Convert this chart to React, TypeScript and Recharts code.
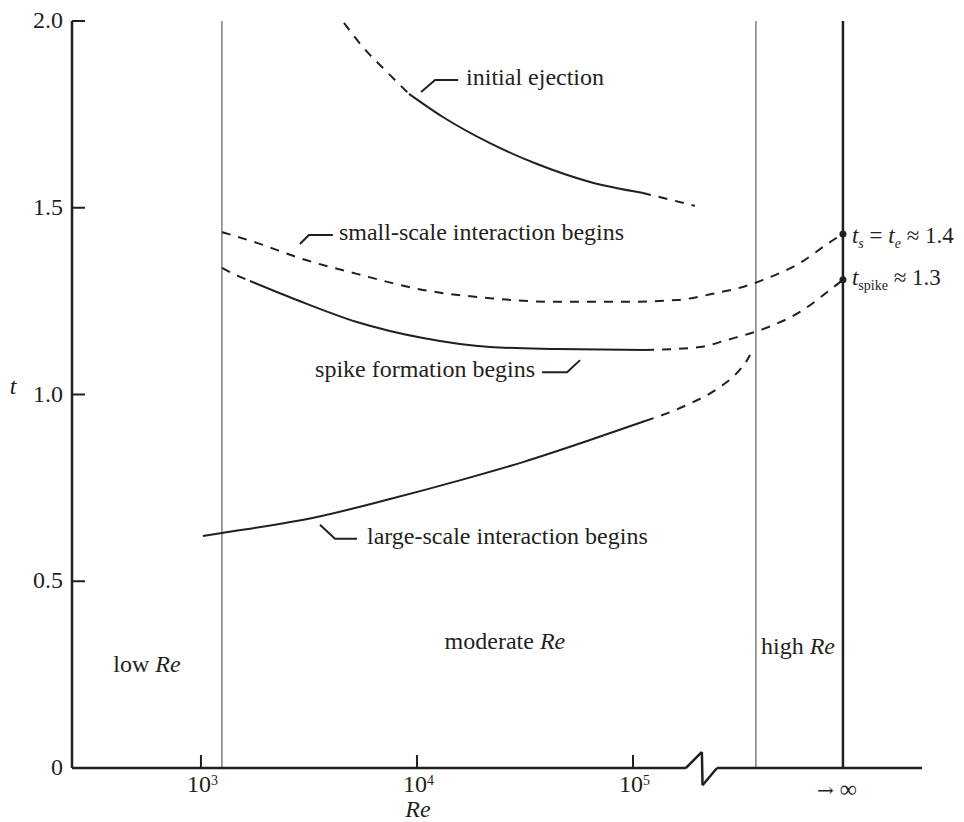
import { ComposedChart, Line, XAxis, YAxis, ReferenceLine, ReferenceDot } from "recharts";

const FONT = '"Liberation Serif", "Times New Roman", serif';
const INK = "#231f20";
const GREY = "#808080";

// x is log10(Re); the point at "infinity" is drawn at a fixed place past the axis break
const xTicks = [3, 4, 5];
const xTickExponents = ["3", "4", "5"];
const infinityX = 5.972;
const yTicks = [0, 0.5, 1, 1.5, 2];
const yTickLabels = ["0", "0.5", "1.0", "1.5", "2.0"];
const regimeBounds = [3.097, 5.569];

// x-axis with the zigzag break
const xAxisPath = [
  { x: 2.403, y: 0 },
  { x: 5.245, y: 0 },
  { x: 5.319, y: 0.043 },
  { x: 5.322, y: -0.046 },
  { x: 5.389, y: 0 },
  { x: 6.338, y: 0 },
];

// initial ejection
const ejectionDashStart = [
  { x: 3.662, y: 1.995 },
  { x: 3.75, y: 1.93 },
  { x: 3.85, y: 1.87 },
  { x: 3.963, y: 1.805 },
];
const ejectionSolid = [
  { x: 3.963, y: 1.805 },
  { x: 4.12, y: 1.743 },
  { x: 4.338, y: 1.673 },
  { x: 4.556, y: 1.617 },
  { x: 4.801, y: 1.569 },
  { x: 5.042, y: 1.54 },
];
const ejectionDashEnd = [
  { x: 5.042, y: 1.54 },
  { x: 5.17, y: 1.522 },
  { x: 5.287, y: 1.505 },
];

// small-scale interaction begins (dashed throughout)
const smallScaleDash = [
  { x: 3.097, y: 1.435 },
  { x: 3.259, y: 1.406 },
  { x: 3.458, y: 1.365 },
  { x: 3.722, y: 1.323 },
  { x: 4.028, y: 1.28 },
  { x: 4.338, y: 1.258 },
  { x: 4.648, y: 1.248 },
  { x: 4.954, y: 1.248 },
  { x: 5.204, y: 1.253 },
  { x: 5.389, y: 1.272 },
  { x: 5.509, y: 1.288 },
  { x: 5.602, y: 1.307 },
  { x: 5.773, y: 1.352 },
  { x: 5.912, y: 1.408 },
  { x: 5.972, y: 1.43 },
];

// spike formation begins
const spikeDashStart = [
  { x: 3.097, y: 1.339 },
  { x: 3.181, y: 1.315 },
  { x: 3.227, y: 1.304 },
];
const spikeSolid = [
  { x: 3.227, y: 1.304 },
  { x: 3.444, y: 1.253 },
  { x: 3.722, y: 1.194 },
  { x: 4.028, y: 1.151 },
  { x: 4.338, y: 1.127 },
  { x: 4.648, y: 1.122 },
  { x: 5.056, y: 1.119 },
];
const spikeDashEnd = [
  { x: 5.056, y: 1.119 },
  { x: 5.31, y: 1.127 },
  { x: 5.435, y: 1.146 },
  { x: 5.602, y: 1.175 },
  { x: 5.773, y: 1.221 },
  { x: 5.912, y: 1.28 },
  { x: 5.972, y: 1.307 },
];

// large-scale interaction begins
const largeScaleSolid = [
  { x: 3.009, y: 0.621 },
  { x: 3.097, y: 0.629 },
  { x: 3.537, y: 0.672 },
  { x: 3.875, y: 0.72 },
  { x: 4.185, y: 0.768 },
  { x: 4.491, y: 0.819 },
  { x: 4.801, y: 0.878 },
  { x: 5.056, y: 0.929 },
];
const largeScaleDash = [
  { x: 5.056, y: 0.929 },
  { x: 5.25, y: 0.972 },
  { x: 5.403, y: 1.02 },
  { x: 5.472, y: 1.052 },
  { x: 5.528, y: 1.092 },
  { x: 5.542, y: 1.106 },
];

// limiting values at Re -> infinity
const limitTs = 1.43;
const limitSpike = 1.307;

const regimeLabels = [
  { x: 2.75, y: 0.273, word: "low" },
  { x: 4.407, y: 0.335, word: "moderate" },
  { x: 5.764, y: 0.321, word: "high" },
];

const curveNotes = [
  { x: 4.019, y: 1.81, text: "initial ejection", dx: 14, dy: -12, run: 23, gap: 8 },
  { x: 3.458, y: 1.403, text: "small-scale interaction begins", dx: 9, dy: -9, run: 24, gap: 6 },
  { x: 4.755, y: 1.092, text: "spike formation begins", dx: -13, dy: 12, run: -25, gap: 7 },
  { x: 3.551, y: 0.651, text: "large-scale interaction begins", dx: 15, dy: 14, run: 22, gap: 10 },
];

const textStyle = { fontFamily: FONT, fontSize: 24, fill: INK };
const limitStyle = { ...textStyle, fontSize: 23 };

function XTick(props: any) {
  const { x, y, payload } = props;
  const v = payload.value;
  if (Math.abs(v - infinityX) < 1e-6) {
    return (
      <text x={x - 26} y={y + 29} style={textStyle}>
        <tspan fontFamily='"DejaVu Serif", serif' fontSize={20}>
          {"→"}
        </tspan>
        <tspan>{" ∞"}</tspan>
      </text>
    );
  }
  const i = xTicks.indexOf(v);
  return (
    <g>
      <line x1={x} y1={y} x2={x} y2={y - 13} stroke={INK} strokeWidth={2} />
      <text x={x - 14} y={y + 24} style={textStyle}>
        10
        <tspan dy={-7} fontSize={14}>
          {xTickExponents[i]}
        </tspan>
      </text>
    </g>
  );
}

function YTick(props: any) {
  const { x, y, payload } = props;
  const i = yTicks.indexOf(payload.value);
  return (
    <g>
      {payload.value !== 0 && <line x1={x} y1={y} x2={x + 13} y2={y} stroke={INK} strokeWidth={2} />}
      <text x={x - 9} y={y + 7} textAnchor="end" style={textStyle}>
        {yTickLabels[i]}
      </text>
    </g>
  );
}

function dashedLine(data: { x: number; y: number }[], key: string) {
  return (
    <Line
      key={key}
      data={data}
      dataKey="y"
      type="monotone"
      stroke={INK}
      strokeWidth={2}
      strokeDasharray="9 8"
      dot={false}
      activeDot={false}
      isAnimationActive={false}
    />
  );
}

function solidLine(data: { x: number; y: number }[], key: string) {
  return (
    <Line
      key={key}
      data={data}
      dataKey="y"
      type="monotone"
      stroke={INK}
      strokeWidth={2}
      dot={false}
      activeDot={false}
      isAnimationActive={false}
    />
  );
}

export default function App() {
  return (
    <ComposedChart width={956} height={814} margin={{ top: 13, right: 42, bottom: 0, left: 0 }}>
      <XAxis
        type="number"
        dataKey="x"
        domain={[2.403, 6.338]}
        ticks={[...xTicks, infinityX]}
        interval={0}
        height={54}
        tickSize={0}
        tickMargin={0}
        tickLine={false}
        axisLine={false}
        tick={(p: any) => <XTick {...p} />}
        label={{
          content: (p: any) => (
            <text
              x={p.viewBox.x + 346}
              y={p.viewBox.y + 49}
              textAnchor="middle"
              style={{ ...textStyle, fontStyle: "italic" }}
            >
              Re
            </text>
          ),
        }}
      />
      <YAxis
        type="number"
        domain={[0, 2]}
        ticks={yTicks}
        interval={0}
        width={64}
        tickSize={0}
        tickMargin={0}
        tickLine={false}
        axisLine={{ stroke: INK, strokeWidth: 2.5 }}
        tick={(p: any) => <YTick {...p} />}
        label={{
          content: (p: any) => (
            <text
              x={p.viewBox.x + p.viewBox.width - 59}
              y={p.viewBox.y + p.viewBox.height / 2 - 1}
              textAnchor="middle"
              style={{ ...textStyle, fontStyle: "italic" }}
            >
              t
            </text>
          ),
        }}
      />

      {regimeBounds.map((b) => (
        <ReferenceLine key={b} x={b} stroke={GREY} strokeWidth={1.5} />
      ))}
      <ReferenceLine x={infinityX} stroke={INK} strokeWidth={2.5} />

      {xAxisPath.slice(1).map((p, i) => (
        <ReferenceLine
          key={"ax" + i}
          segment={[xAxisPath[i], p]}
          stroke={INK}
          strokeWidth={2.5}
          ifOverflow="visible"
        />
      ))}

      {dashedLine(ejectionDashStart, "e1")}
      {solidLine(ejectionSolid, "e2")}
      {dashedLine(ejectionDashEnd, "e3")}
      {dashedLine(smallScaleDash, "s1")}
      {dashedLine(spikeDashStart, "p1")}
      {solidLine(spikeSolid, "p2")}
      {dashedLine(spikeDashEnd, "p3")}
      {solidLine(largeScaleSolid, "l1")}
      {dashedLine(largeScaleDash, "l2")}

      {curveNotes.map((n) => (
        <ReferenceDot
          key={n.text}
          x={n.x}
          y={n.y}
          r={0}
          shape={(p: any) => {
            const ex = p.cx + n.dx;
            const ey = p.cy + n.dy;
            const hx = ex + n.run;
            const right = n.run > 0;
            return (
              <g>
                <polyline
                  points={`${p.cx},${p.cy} ${ex},${ey} ${hx},${ey}`}
                  fill="none"
                  stroke={INK}
                  strokeWidth={2}
                />
                <text
                  x={right ? hx + n.gap : hx - n.gap}
                  y={ey + 5}
                  textAnchor={right ? "start" : "end"}
                  style={textStyle}
                >
                  {n.text}
                </text>
              </g>
            );
          }}
        />
      ))}

      {regimeLabels.map((r) => (
        <ReferenceDot
          key={r.word}
          x={r.x}
          y={r.y}
          r={0}
          shape={(p: any) => (
            <text x={p.cx} y={p.cy + 6} textAnchor="middle" style={textStyle}>
              {r.word + " "}
              <tspan fontStyle="italic">Re</tspan>
            </text>
          )}
        />
      ))}

      <ReferenceDot
        x={infinityX}
        y={limitTs}
        r={3.5}
        shape={(p: any) => (
          <g>
            <circle cx={p.cx} cy={p.cy} r={3.5} fill={INK} />
            <text x={p.cx + 9} y={p.cy + 9} style={limitStyle}>
              <tspan fontStyle="italic">t</tspan>
              <tspan fontStyle="italic" fontSize={14} dy={5}>
                s
              </tspan>
              <tspan dy={-5}>{" = "}</tspan>
              <tspan fontStyle="italic">t</tspan>
              <tspan fontStyle="italic" fontSize={14} dy={5}>
                e
              </tspan>
              <tspan dy={-5}>{" ≈ 1.4"}</tspan>
            </text>
          </g>
        )}
      />
      <ReferenceDot
        x={infinityX}
        y={limitSpike}
        r={3.5}
        shape={(p: any) => (
          <g>
            <circle cx={p.cx} cy={p.cy} r={3.5} fill={INK} />
            <text x={p.cx + 9} y={p.cy + 5} style={limitStyle}>
              <tspan fontStyle="italic">t</tspan>
              <tspan fontSize={14} dy={5}>
                spike
              </tspan>
              <tspan dy={-5}>{" ≈ 1.3"}</tspan>
            </text>
          </g>
        )}
      />
    </ComposedChart>
  );
}
